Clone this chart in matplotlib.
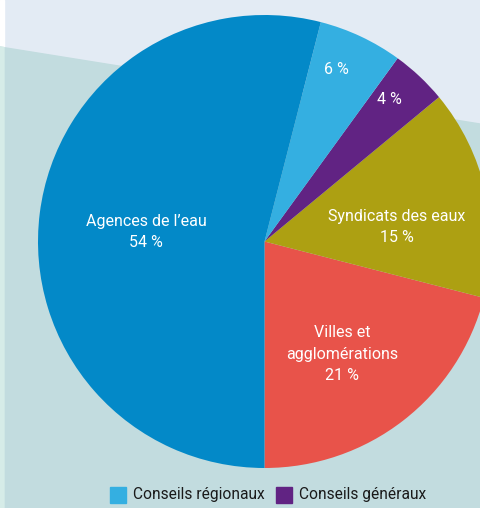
import matplotlib.pyplot as plt
from matplotlib.patches import Polygon, Rectangle

plt.rcParams['font.family'] = ['Roboto', 'DejaVu Sans']

# data (counterclockwise from 6 o'clock)
labels = ["Villes et\nagglomérations", "Syndicats des eaux", "Conseils généraux",
          "Conseils régionaux", "Agences de l\u2019eau"]
values = [21, 15, 4, 6, 54]
colors = ["#e8534a", "#ada012", "#612383", "#34afe1", "#0389c8"]
legend_items = ["Conseils régionaux", "Conseils généraux"]
legend_colors = ["#34afe1", "#612383"]

# label positions in pixels (x, y from top)
label_pos = [(342, 354), (397, 227), (389, 100), (336, 70), (146, 232)]

W, H = 480, 508
fig = plt.figure(figsize=(W / 100, H / 100), dpi=100)
ax = fig.add_axes([0, 0, 1, 1])

# background
ax.add_patch(Rectangle((0, 0), W, H, color="#e3ebf4", zorder=0))
ax.add_patch(Rectangle((0, 0), 4, H, color="#ffffff", zorder=0))
ax.add_patch(Polygon([(0, H - 47), (W, H - 124), (W, 0), (0, 0)],
                     closed=True, color="#c2dcdf", zorder=1))
ax.add_patch(Polygon([(0, H - 47), (4, H - 47.6), (4, 0), (0, 0)],
                     closed=True, color="#d6ece8", zorder=1))

cx, cy, r = 264.5, H - 241.5, 226.5
ax.pie(values, colors=colors, startangle=-90, counterclock=True,
       center=(cx, cy), radius=r, frame=True,
       wedgeprops=dict(linewidth=0, zorder=2))
ax.set_xlim(0, W)
ax.set_ylim(0, H)
ax.axis("off")

for lab, v, (x, y) in zip(labels, values, label_pos):
    txt = f"{lab}\n{v} %" if v > 10 else f"{v} %"
    ax.text(x, H - y, txt, ha="center", va="center", color="white",
            fontsize=11.5, linespacing=1.55, zorder=5)

# legend
lx = [110, 276]
for x, name, c in zip(lx, legend_items, legend_colors):
    ax.add_patch(Rectangle((x, H - 503), 16, 16, color=c, zorder=5))
    ax.text(x + 23, H - 495, name, ha="left", va="center", fontsize=11.2,
            color="#1a1a1a", zorder=5)

fig.savefig("out.png", dpi=100)
